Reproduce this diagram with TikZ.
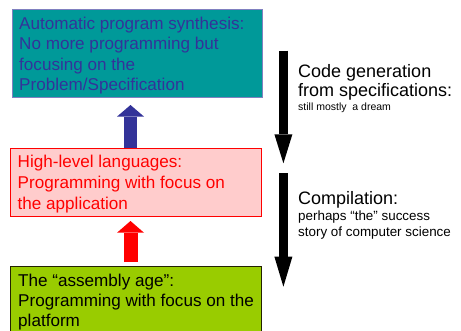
\documentclass[tikz,border=0pt]{standalone}
\usepackage{fontspec}
\setmainfont{Liberation Sans}
\usetikzlibrary{arrows.meta}
\definecolor{tealfill}{HTML}{009999}
\definecolor{tealline}{HTML}{8080C0}
\definecolor{darkblue}{HTML}{333399}
\definecolor{pinkfill}{HTML}{FFCCCC}
\definecolor{brightred}{HTML}{FF0000}
\definecolor{limefill}{HTML}{99CC00}
\definecolor{darkline}{HTML}{222200}
\begin{document}
\begin{tikzpicture}[x=1pt,y=-1pt,
  boxshape/.style={draw, line width=1pt, inner sep=0pt, anchor=north west},
  bigtext/.style={inner sep=0pt, anchor=base west, align=left, font=\fontsize{17.1}{20.5}\selectfont},
  sidetext/.style={inner sep=0pt, anchor=base west, align=left, font=\fontsize{18}{19}\selectfont},
  blockarrow/.style={line width=#1},
]
\useasboundingbox (0,0) rectangle (461,330);

% boxes
\node[boxshape, draw=tealline, fill=tealfill, minimum width=250pt, minimum height=88pt] (teal) at (12,9) {};
\node[boxshape, draw=brightred, fill=pinkfill, minimum width=251pt, minimum height=68pt] (red) at (10,148) {};
\node[boxshape, draw=darkline, fill=limefill, minimum width=251pt, minimum height=80pt] (green) at (10,266) {};

% box texts
\node[bigtext, text=darkblue] (tealtext) at (19,29)
  {\begin{tabular}[t]{@{}l@{}}Automatic program synthesis:\\No more programming but\\focusing on the\\Problem/Specification\end{tabular}};
\node[bigtext, text=brightred, font=\fontsize{17.1}{21}\selectfont] (redtext) at (17.5,167.7)
  {\begin{tabular}[t]{@{}l@{}}High-level languages:\\Programming with focus on\\the application\end{tabular}};
\node[bigtext, text=black, font=\fontsize{17.1}{20}\selectfont] (greentext) at (18,286)
  {\begin{tabular}[t]{@{}l@{}}The “assembly age”:\\Programming with focus on the\\platform\end{tabular}};

% up arrows between boxes
\coordinate (ax) at (130.5,0);
\draw[darkblue, blockarrow=12.7pt, -{Triangle[length=11.6pt,width=27pt,line width=0pt]}, shorten >=7pt]
  (ax |- red.north) -- (ax |- teal.south);
\draw[brightred, blockarrow=14pt, -{Triangle[length=11.7pt,width=27pt,line width=0pt]}, shorten >=4pt, shorten <=4pt]
  (ax |- green.north) -- (ax |- red.south);

% down arrows on the right
\coordinate (d1s) at (283.4,50.7);
\coordinate (d1e) at (283.4,163.3);
\coordinate (d2s) at (283.4,173.3);
\coordinate (d2e) at (283.4,286.7);
\draw[black, blockarrow=8.7pt, -{Triangle[length=29pt,width=18pt,line width=0pt]}] (d1s) -- (d1e);
\draw[black, blockarrow=8.5pt, -{Triangle[length=30pt,width=18pt,line width=0pt]}] (d2s) -- (d2e);

% side texts
\node[sidetext] (codegen) at (298,77.7)
  {\begin{tabular}[t]{@{}l@{}}Code generation\\from specifications:\end{tabular}};
\node[inner sep=0pt, anchor=base west, font=\fontsize{10.5}{13}\selectfont] (dream) at (298,110.7)
  {still mostly\ \ a dream};
\node[sidetext] (compil) at (298,204) {Compilation:};
\node[inner sep=0pt, anchor=base west, align=left, font=\fontsize{13.4}{16.7}\selectfont] (success) at (298,220)
  {\begin{tabular}[t]{@{}l@{}}perhaps “the” success\\story of computer science\end{tabular}};
\end{tikzpicture}
\end{document}
